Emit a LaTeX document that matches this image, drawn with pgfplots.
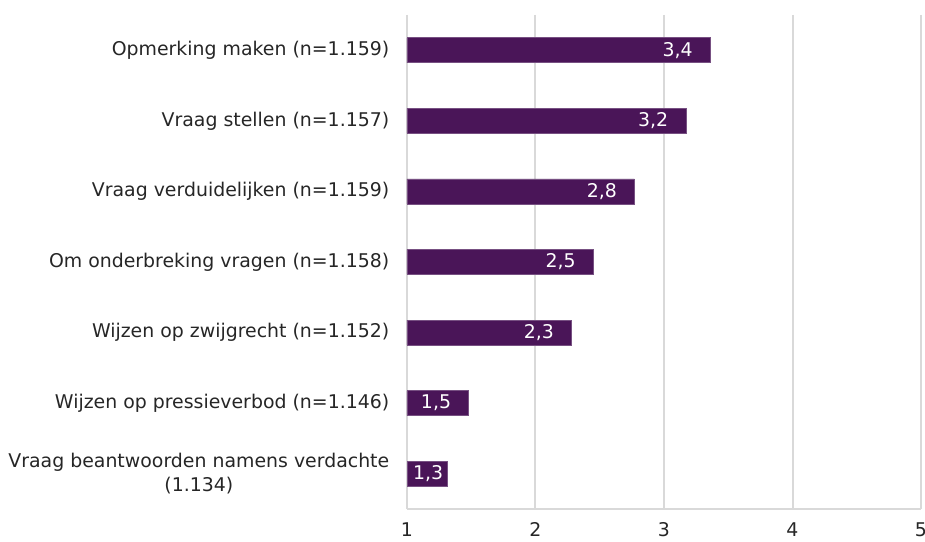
\documentclass[border=0pt]{standalone}
\usepackage{fontspec}
\setmainfont{DejaVu Sans}
\usepackage{pgfplots}
\pgfplotsset{compat=1.18}
\definecolor{barpurple}{HTML}{4A1558}
\definecolor{gridgray}{HTML}{D9D9D9}
\definecolor{txt}{HTML}{262626}
\begin{document}
\begin{tikzpicture}[x=1bp,y=1bp]
\useasboundingbox (-407,-33) rectangle (518,509);
\begin{axis}[
  at={(0,0)}, anchor=south west,
  scale only axis, width=514bp, height=494bp,
  xmin=1, xmax=5, ymin=0.5, ymax=7.5, y dir=reverse,
  xtick={1,2,3,4,5}, ytick={1,2,3,4,5,6,7},
  yticklabels={Opmerking maken (n=1.159),Vraag stellen (n=1.157),Vraag verduidelijken (n=1.159),Om onderbreking vragen (n=1.158),Wijzen op zwijgrecht (n=1.152),Wijzen op pressieverbod (n=1.146),{Vraag beantwoorden namens verdachte\\(1.134)}},
  axis lines*=left,
  axis line style={gridgray, line width=2bp},
  xmajorgrids, major grid style={gridgray, line width=2bp},
  tick style={draw=none},
  font=\fontsize{18.9bp}{23.5bp}\selectfont,
  every tick label/.append style={txt},
  /pgf/number format/assume math mode=true,
  yticklabel style={align=center, xshift=-10bp},
  xticklabel style={yshift=-10bp},
  xbar, bar width=25bp,
  point meta=explicit symbolic,
  nodes near coords,
  nodes near coords style={anchor=east, text=white, font=\fontsize{18.9bp}{23bp}\selectfont},
]
\addplot[fill=barpurple, draw=barpurple!75!white, line width=0.6bp, bar shift=0pt,
  nodes near coords style={xshift=-14bp}] coordinates {
  (3.36,1) [{3,4}]
  (3.17,2) [{3,2}]
  (2.77,3) [{2,8}]
  (2.45,4) [{2,5}]
  (2.28,5) [{2,3}]
  (1.48,6) [{1,5}]
};
\addplot[fill=barpurple, draw=barpurple!75!white, line width=0.6bp, bar shift=0pt,
  nodes near coords style={xshift=0bp}] coordinates {
  (1.31,7) [{1,3}]
};
\end{axis}
\end{tikzpicture}
\end{document}
